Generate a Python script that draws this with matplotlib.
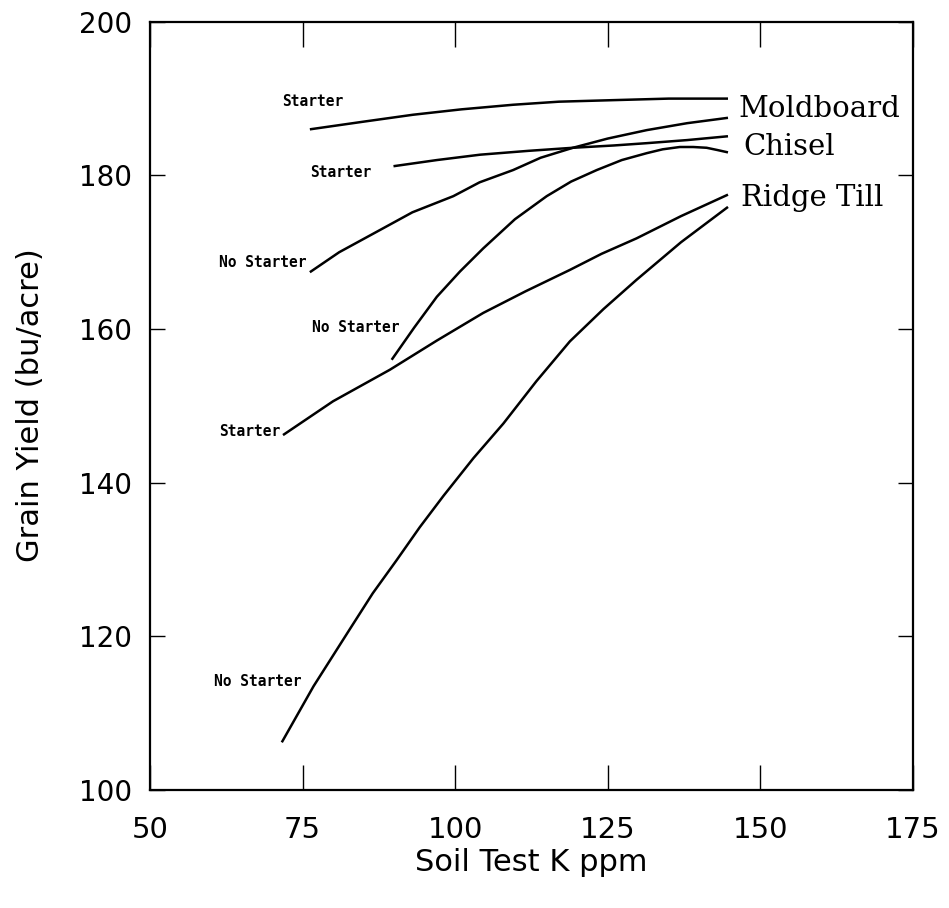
import matplotlib
matplotlib.use("Agg")
import matplotlib.pyplot as plt

# Moldboard
mb_st_x = [76.2, 85, 93.1, 101, 109.5, 117, 125.9, 135, 144.7]
mb_st_y = [186.0, 187.0, 187.9, 188.6, 189.2, 189.6, 189.8, 190.0, 190.0]
mb_ns_x = [76.2, 81, 87.7, 93, 99.7, 104, 109.5, 114, 119.3, 125, 131.4, 138, 144.7]
mb_ns_y = [167.4, 170.0, 172.9, 175.2, 177.3, 179.1, 180.7, 182.3, 183.6, 184.8, 185.9, 186.8, 187.5]

# Chisel
ch_st_x = [89.9, 97, 104.1, 112, 119.3, 126, 131.4, 138, 144.7]
ch_st_y = [181.2, 182.0, 182.7, 183.2, 183.6, 183.9, 184.2, 184.6, 185.1]
ch_ns_x = [89.6, 93.3, 97.0, 100.8, 104.6, 109.8, 115.0, 119.0, 123.2, 127.3, 131.4,
           134.0, 136.8, 139.0, 141.2, 143.0, 144.7]
ch_ns_y = [156.0, 160.2, 164.2, 167.5, 170.5, 174.3, 177.3, 179.2, 180.7, 182.0, 182.9,
           183.4, 183.7, 183.7, 183.6, 183.3, 183.0]

# Ridge Till
rt_st_x = [71.8, 80, 89.3, 97, 104.6, 111.5, 118.8, 124, 129.7, 137, 144.7]
rt_st_y = [146.2, 150.6, 154.7, 158.5, 162.1, 164.9, 167.7, 169.8, 171.8, 174.7, 177.5]
rt_ns_x = [71.6, 76.8, 82.8, 86.5, 90.4, 94.2, 98.1, 103, 107.9, 113.3, 118.8,
           124.3, 129.7, 137, 144.7]
rt_ns_y = [106.2, 113.5, 121.0, 125.6, 129.9, 134.2, 138.3, 143.2, 147.7, 153.2, 158.4,
           162.6, 166.4, 171.3, 175.9]

x_ticks = [50, 75, 100, 125, 150, 175]
y_ticks = [100, 120, 140, 160, 180, 200]

fig = plt.figure(figsize=(9.49, 9.08), dpi=100)
ax = fig.add_axes([0.158, 0.130, 0.804, 0.846])

for xs, ys in [(mb_st_x, mb_st_y), (mb_ns_x, mb_ns_y), (ch_st_x, ch_st_y),
               (ch_ns_x, ch_ns_y), (rt_st_x, rt_st_y), (rt_ns_x, rt_ns_y)]:
    ax.plot(xs, ys, color="black", lw=1.8, solid_capstyle="butt", solid_joinstyle="round")

small = dict(fontsize=10.5, fontweight="bold", family="DejaVu Sans Mono", ha="center", va="center")
ax.text(76.6, 189.6, "Starter", **small)
ax.text(81.3, 180.4, "Starter", **small)
ax.text(68.5, 168.6, "No Starter", **small)
ax.text(83.7, 160.2, "No Starter", **small)
ax.text(66.4, 146.6, "Starter", **small)
ax.text(67.7, 114.1, "No Starter", **small)

big = dict(fontsize=21, family="DejaVu Serif", ha="left", va="baseline")
ax.text(146.4, 187.6, "Moldboard", **big)
ax.text(147.2, 182.7, "Chisel", **big)
ax.text(146.9, 176.0, "Ridge Till", **big)

ax.set_xlim(50, 175)
ax.set_ylim(100, 200)
ax.set_xticks(x_ticks)
ax.set_yticks(y_ticks)
ax.tick_params(axis="x", direction="in", length=18, width=1, top=True,
               labelsize=21, pad=19)
ax.tick_params(axis="y", direction="in", length=11, width=1, right=True,
               labelsize=20, pad=13)
for s in ax.spines.values():
    s.set_linewidth(1.6)

ax.set_xlabel("Soil Test K ppm", fontsize=22)
ax.set_ylabel("Grain Yield (bu/acre)", fontsize=22)
ax.xaxis.set_label_coords(0.5, -0.075)
ax.yaxis.set_label_coords(-0.138, 0.501)

fig.savefig("out.png", dpi=100)
